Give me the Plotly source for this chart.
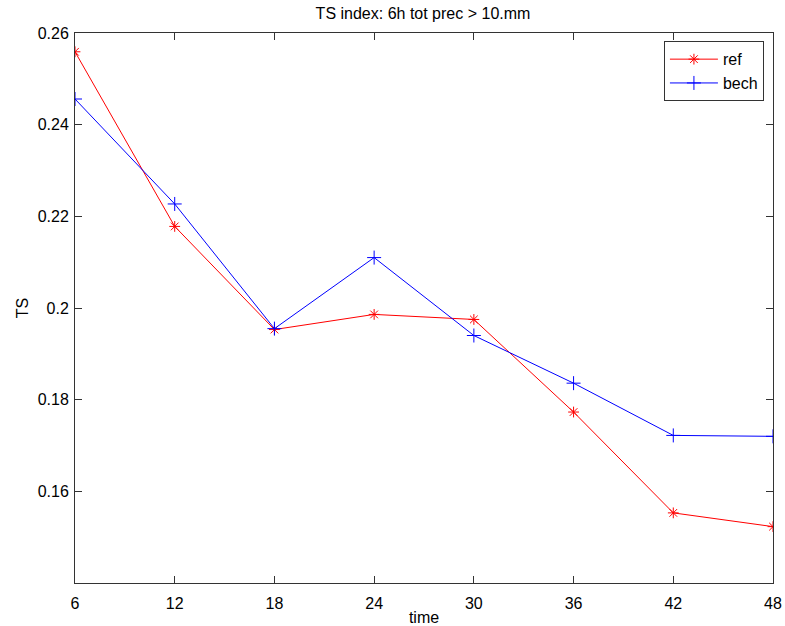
import plotly.graph_objects as go

time = [6, 12, 18, 24, 30, 36, 42, 48]
ts_ref = [0.2559, 0.2178, 0.1953, 0.1986, 0.1975, 0.1773, 0.1553, 0.1523]
ts_bech = [0.2456, 0.2227, 0.1955, 0.2110, 0.1940, 0.1836, 0.1722, 0.1720]

x_ticks = [6, 12, 18, 24, 30, 36, 42, 48]
y_tickvals = [0.16, 0.18, 0.20, 0.22, 0.24, 0.26]
y_ticktext = ["0.16", "0.18", "0.2", "0.22", "0.24", "0.26"]

FONT = "Liberation Sans, Arial, sans-serif"
FS = 16
AX = "#333333"

fig = go.Figure()
fig.add_trace(go.Scatter(
    x=time, y=ts_ref, name="ref", mode="lines+markers",
    line=dict(color="#ff0000", width=1),
    marker=dict(symbol="asterisk-open", size=9, color="#ff0000",
                line=dict(color="#ff0000", width=1)),
))
fig.add_trace(go.Scatter(
    x=time, y=ts_bech, name="bech", mode="lines+markers",
    line=dict(color="#0000ff", width=1),
    marker=dict(symbol="cross-thin-open", size=10, color="#0000ff",
                line=dict(color="#0000ff", width=1)),
))

fig.update_layout(
    width=785, height=626,
    margin=dict(l=75, r=12, t=33, b=43, pad=0, autoexpand=False),
    paper_bgcolor="white", plot_bgcolor="white",
    font=dict(family=FONT, size=FS, color="black"),
    title=dict(text="TS index: 6h tot prec > 10.mm", x=423 / 785, xanchor="center",
               y=1 - 13 / 626, yanchor="middle", yref="container",
               font=dict(family=FONT, size=FS, color="black")),
    showlegend=True,
    legend=dict(x=0.987, xanchor="right", y=0.985, yanchor="top",
                bgcolor="white", bordercolor=AX, borderwidth=1,
                font=dict(family=FONT, size=FS, color="black"),
                tracegroupgap=0, itemwidth=48),
    xaxis=dict(range=[6, 48], tickvals=x_ticks, ticks="inside", ticklen=7,
               tickcolor=AX, showline=True, linecolor=AX, linewidth=1,
               mirror="ticks", showgrid=False, zeroline=False, automargin=False,
               title=dict(text="time", standoff=4,
                          font=dict(family=FONT, size=FS, color="black")),
               ticklabelstandoff=6),
    yaxis=dict(range=[0.14, 0.26], tickvals=y_tickvals, ticktext=y_ticktext,
               ticks="inside", ticklen=7, tickcolor=AX, showline=True,
               linecolor=AX, linewidth=1, mirror="ticks", showgrid=False,
               zeroline=False, automargin=False,
               title=dict(text="TS", standoff=5,
                          font=dict(family=FONT, size=FS, color="black")),
               ticklabelstandoff=2),
)

fig.write_html(
    "out.html",
    config={"displayModeBar": False},
    post_script="document.body.style.margin='0';document.body.style.overflow='hidden';",
)
